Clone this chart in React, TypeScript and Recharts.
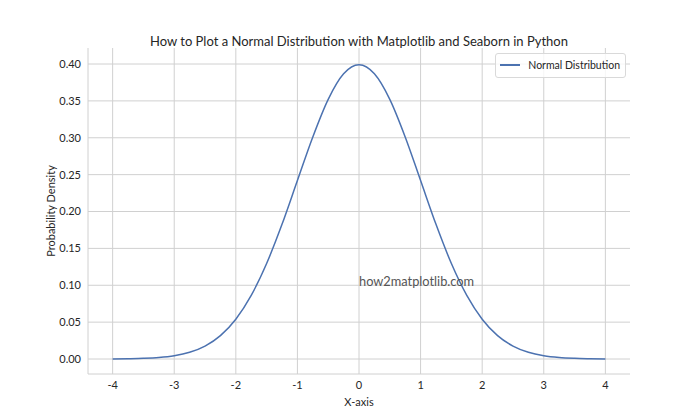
import React from 'react';
import { LineChart, Line, XAxis, YAxis, CartesianGrid } from 'recharts';

// x positions sampled along the curve
const xValues = [
  -4, -3.75, -3.5, -3.25, -3, -2.75, -2.5, -2.25, -2, -1.75, -1.5, -1.25, -1, -0.75, -0.5, -0.25,
  0, 0.25, 0.5, 0.75, 1, 1.25, 1.5, 1.75, 2, 2.25, 2.5, 2.75, 3, 3.25, 3.5, 3.75, 4,
];
// density
const densityValues = [
  0.0001, 0.0004, 0.0009, 0.002, 0.0044, 0.0091, 0.0175, 0.0317, 0.054, 0.0863, 0.1295, 0.1826, 0.242, 0.3011, 0.3521, 0.3867,
  0.3989, 0.3867, 0.3521, 0.3011, 0.242, 0.1826, 0.1295, 0.0863, 0.054, 0.0317, 0.0175, 0.0091, 0.0044, 0.002, 0.0009, 0.0004, 0.0001,
];
const xTicks = [-4, -3, -2, -1, 0, 1, 2, 3, 4];
const yTicks = [0, 0.05, 0.1, 0.15, 0.2, 0.25, 0.3, 0.35, 0.4];

const seriesName = 'Normal Distribution';
const title = 'How to Plot a Normal Distribution with Matplotlib and Seaborn in Python';
const watermark = 'how2matplotlib.com';

const data = xValues.map((x, i) => ({ x, density: densityValues[i] }));

const FONT = 'Lato, "Open Sans", sans-serif';
const TEXT = '#262626';
const GRID = '#d0d0d0';

export default function App() {
  return (
    <div style={{ position: 'absolute', left: 0, top: 0, width: 700, height: 420, background: '#fff', fontFamily: FONT }}>
      <div style={{ position: 'absolute', left: 88, width: 542, top: 35, textAlign: 'center', fontSize: 13, color: TEXT, lineHeight: 1 }}>
        {title}
      </div>
      <LineChart width={700} height={420} data={data} margin={{ top: 48, right: 70, left: 38, bottom: 16 }}>
        <CartesianGrid stroke={GRID} strokeWidth={1} syncWithTicks />
        <XAxis
          dataKey="x"
          type="number"
          domain={[-4.4, 4.4]}
          ticks={xTicks}
          allowDataOverflow
          height={30}
          stroke={GRID}
          tickLine={false}
          tickSize={0}
          tickMargin={7}
          tick={{ fill: TEXT, fontSize: 11, fontFamily: FONT }}
        />
        <YAxis
          type="number"
          domain={[-0.0203, 0.4217]}
          ticks={yTicks}
          allowDataOverflow
          width={50}
          stroke={GRID}
          tickLine={false}
          tickSize={0}
          tickMargin={7}
          tickFormatter={(v: number) => v.toFixed(2)}
          tick={{ fill: TEXT, fontSize: 11, fontFamily: FONT }}
        />
        <Line
          type="monotone"
          dataKey="density"
          name={seriesName}
          stroke="#4c72b0"
          strokeWidth={1.5}
          dot={false}
          isAnimationActive={false}
        />
      </LineChart>
      <div style={{ position: 'absolute', right: 74, top: 53, border: '1px solid #d9d9d9', borderRadius: 3, background: 'rgba(255,255,255,0.8)', padding: '5px 5px 5px 4px', display: 'flex', alignItems: 'center', fontSize: 10.5, color: TEXT, lineHeight: 1.2 }}>
        <span style={{ display: 'inline-block', width: 20, height: 2, background: '#4c72b0', marginRight: 8 }} />
        {seriesName}
      </div>
      <div style={{ position: 'absolute', left: 359, top: 275, fontSize: 12.8, color: '#555', lineHeight: 1 }}>{watermark}</div>
      <div style={{ position: 'absolute', left: 88, width: 542, top: 396, textAlign: 'center', fontSize: 11, color: TEXT, lineHeight: 1 }}>
        X-axis
      </div>
      <div style={{ position: 'absolute', left: 50, top: 211, transform: 'translate(-50%, -50%) rotate(-90deg)', whiteSpace: 'nowrap', fontSize: 11, color: TEXT, lineHeight: 1 }}>
        Probability Density
      </div>
    </div>
  );
}
